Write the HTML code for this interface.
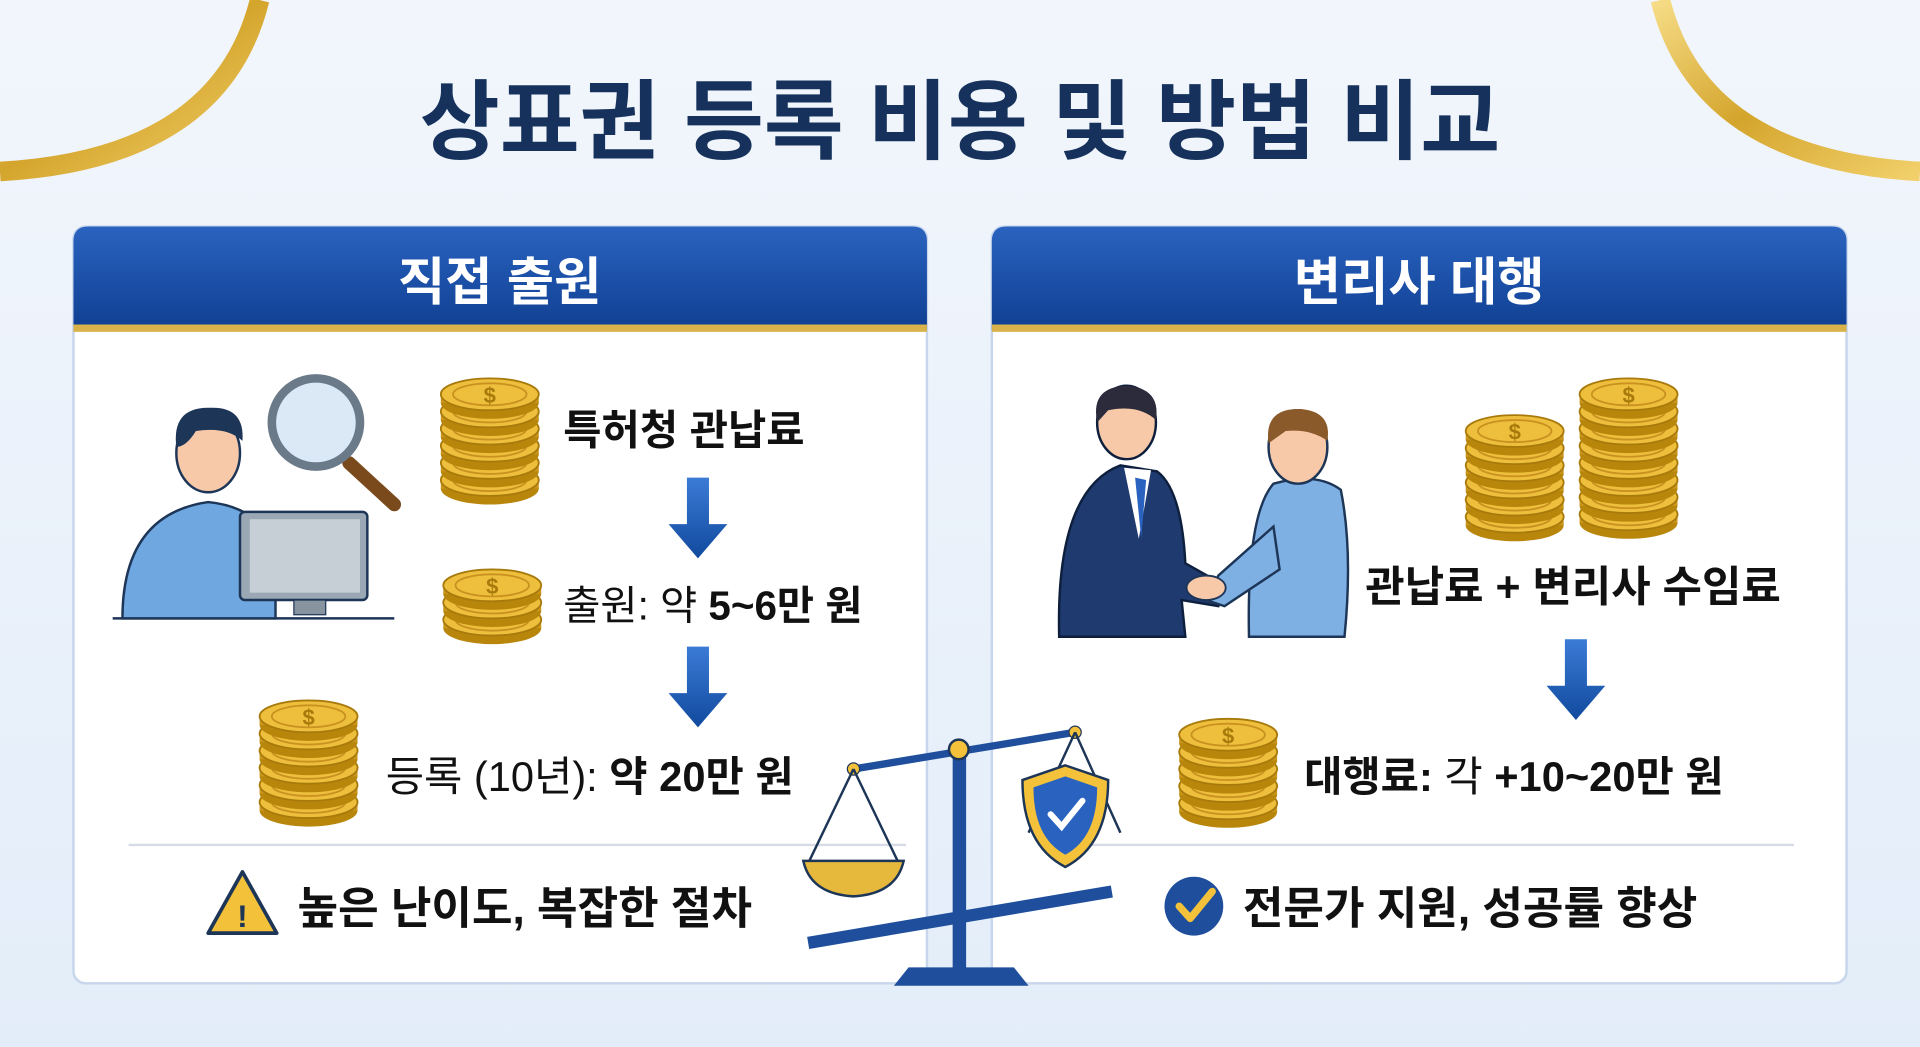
<!DOCTYPE html>
<html><head><meta charset="utf-8"><style>
html,body{margin:0;padding:0;width:1920px;height:1047px;overflow:hidden;background:#eaf1fa}
svg{display:block}
text{font-family:"Liberation Sans","Noto Sans CJK KR",sans-serif}
</style></head><body>
<svg width="1920" height="1047" viewBox="0 0 1568 855" preserveAspectRatio="none" xmlns="http://www.w3.org/2000/svg">
<defs>
<linearGradient id="bg" x1="0" y1="0" x2="0" y2="1"><stop offset="0" stop-color="#f2f6fc"/><stop offset="1" stop-color="#e3edf9"/></linearGradient>
<linearGradient id="hd" x1="0" y1="0" x2="0" y2="1"><stop offset="0" stop-color="#2a63bf"/><stop offset="1" stop-color="#0f3f92"/></linearGradient>
<linearGradient id="ar" x1="0" y1="0" x2="0" y2="1"><stop offset="0" stop-color="#3b7bd6"/><stop offset="1" stop-color="#114a9e"/></linearGradient>
<linearGradient id="gold" x1="0" y1="0" x2="1" y2="1"><stop offset="0" stop-color="#f6dc86"/><stop offset="0.5" stop-color="#d4a52c"/><stop offset="1" stop-color="#f1cf6a"/></linearGradient>
<g id="coin"><ellipse cx="0" cy="7" rx="40" ry="13" fill="#b8860b"/><rect x="-40" y="0" width="80" height="7" fill="#c9961c"/><ellipse cx="0" cy="0" rx="40" ry="13" fill="#eebf3c" stroke="#a87a0c" stroke-width="1.5"/><ellipse cx="0" cy="0" rx="30" ry="9" fill="none" stroke="#c99220" stroke-width="1.5"/></g>
<g id="arrow"><path d="M-9 0 H9 V38 H24 L0 66 L-24 38 H-9 Z" fill="url(#ar)"/></g>
</defs>
<rect width="1568" height="855" fill="url(#bg)"/>
<path d="M0 140 Q180 130 212 0" fill="none" stroke="url(#gold)" stroke-width="16"/>
<path d="M1568 140 Q1388 130 1356 0" fill="none" stroke="url(#gold)" stroke-width="16"/>
<text x="784" y="124" text-anchor="middle" font-size="71" font-weight="bold" fill="#16325c">상표권 등록 비용 및 방법 비교</text>

<g>
<rect x="60" y="185" width="697" height="618" rx="10" fill="#fff" stroke="#c7d6ec" stroke-width="2"/>
<path d="M60 270 V197 Q60 185 72 185 H745 Q757 185 757 197 V270 Z" fill="url(#hd)"/>
<rect x="60" y="265" width="697" height="6" fill="#d9b24a"/>
<text x="408" y="245" text-anchor="middle" font-size="42" font-weight="bold" fill="#fff">직접 출원</text>
</g>
<g>
<rect x="810" y="185" width="698" height="618" rx="10" fill="#fff" stroke="#c7d6ec" stroke-width="2"/>
<path d="M810 270 V197 Q810 185 822 185 H1496 Q1508 185 1508 197 V270 Z" fill="url(#hd)"/>
<rect x="810" y="265" width="698" height="6" fill="#d9b24a"/>
<text x="1159" y="245" text-anchor="middle" font-size="42" font-weight="bold" fill="#fff">변리사 대행</text>
</g>

<line x1="92" y1="505" x2="322" y2="505" stroke="#1d3557" stroke-width="2"/>
<path d="M100 505 Q100 420 170 410 Q220 415 225 460 L225 505 Z" fill="#6fa7e0" stroke="#1d3557" stroke-width="2"/>
<ellipse cx="170" cy="370" rx="26" ry="32" fill="#f7c9a8" stroke="#1d3557" stroke-width="2"/>
<path d="M144 365 Q140 332 172 333 Q200 332 198 360 Q185 348 160 352 Q152 365 144 365 Z" fill="#1d3557"/>
<rect x="196" y="418" width="104" height="72" rx="4" fill="#9aa7b4" stroke="#1d3557" stroke-width="2"/>
<rect x="204" y="424" width="90" height="60" fill="#c6ced6"/>
<rect x="240" y="490" width="26" height="12" fill="#8893a0" stroke="#1d3557"/>
<line x1="285" y1="378" x2="322" y2="412" stroke="#7a4a1c" stroke-width="11" stroke-linecap="round"/>
<circle cx="258" cy="345" r="36" fill="#dbe9f6" stroke="#6b7a88" stroke-width="7"/>

<g transform="translate(400,0)"><use href="#coin" y="392"/><use href="#coin" y="378"/><use href="#coin" y="364"/><use href="#coin" y="350"/><use href="#coin" y="336"/><use href="#coin" y="322"/><text x="0" y="329" text-anchor="middle" font-size="18" font-weight="bold" fill="#a87a0c">$</text></g>
<g transform="translate(402,0)"><use href="#coin" y="506"/><use href="#coin" y="492"/><use href="#coin" y="478"/><text x="0" y="485" text-anchor="middle" font-size="18" font-weight="bold" fill="#a87a0c">$</text></g>
<g transform="translate(252,0)"><use href="#coin" y="655"/><use href="#coin" y="641"/><use href="#coin" y="627"/><use href="#coin" y="613"/><use href="#coin" y="599"/><use href="#coin" y="585"/><text x="0" y="592" text-anchor="middle" font-size="18" font-weight="bold" fill="#a87a0c">$</text></g>

<text x="460" y="363" font-size="34" font-weight="bold" fill="#111">특허청 관납료</text>
<use href="#arrow" x="570" y="390"/>
<text x="460" y="506" font-size="33" fill="#111">출원: 약 <tspan font-weight="bold">5~6만 원</tspan></text>
<use href="#arrow" x="570" y="528"/>
<text x="315" y="646" font-size="34" fill="#111">등록 (10년): <tspan font-weight="bold">약 20만 원</tspan></text>
<line x1="105" y1="690" x2="740" y2="690" stroke="#d5dce6" stroke-width="2"/>
<path d="M198 712 L226 762 H170 Z" fill="#f3c23a" stroke="#1d3557" stroke-width="3" stroke-linejoin="round"/>
<text x="198" y="757" text-anchor="middle" font-size="26" font-weight="bold" fill="#1d3557">!</text>
<text x="243" y="754" font-size="36" font-weight="bold" fill="#111">높은 난이도, 복잡한 절차</text>

<path d="M865 520 Q862 400 915 380 L945 385 Q965 400 968 460 L1000 478 L995 495 L965 490 L968 520 Z" fill="#1f3a6e" stroke="#0e1f3d" stroke-width="2"/>
<path d="M918 382 L930 440 L940 384 Z" fill="#fff"/>
<path d="M927 390 L932 440 L936 392 Z" fill="#2a63bf"/>
<ellipse cx="920" cy="345" rx="24" ry="30" fill="#f7c9a8" stroke="#0e1f3d" stroke-width="2"/>
<path d="M896 345 Q890 315 922 315 Q948 318 944 343 Q930 330 905 335 Z" fill="#2b2b3b"/>
<path d="M1020 520 Q1018 420 1040 395 Q1075 385 1095 400 Q1105 450 1098 520 Z" fill="#7fb0e4" stroke="#1d3557" stroke-width="2"/>
<path d="M1040 430 L995 470 L985 490 L1000 495 L1045 465 Z" fill="#7fb0e4" stroke="#1d3557" stroke-width="2"/>
<ellipse cx="1060" cy="365" rx="24" ry="30" fill="#f7c9a8" stroke="#1d3557" stroke-width="2"/>
<path d="M1036 362 Q1032 333 1062 334 Q1088 336 1084 360 Q1070 350 1050 352 Z" fill="#8a5a2b"/>
<ellipse cx="985" cy="480" rx="16" ry="10" fill="#f7c9a8" stroke="#1d3557" stroke-width="1.5"/>

<g transform="translate(1237,0)"><use href="#coin" y="422"/><use href="#coin" y="408"/><use href="#coin" y="394"/><use href="#coin" y="380"/><use href="#coin" y="366"/><use href="#coin" y="352"/><text x="0" y="359" text-anchor="middle" font-size="18" font-weight="bold" fill="#a87a0c">$</text></g>
<g transform="translate(1330,0)"><use href="#coin" y="420"/><use href="#coin" y="406"/><use href="#coin" y="392"/><use href="#coin" y="378"/><use href="#coin" y="364"/><use href="#coin" y="350"/><use href="#coin" y="336"/><use href="#coin" y="322"/><text x="0" y="329" text-anchor="middle" font-size="18" font-weight="bold" fill="#a87a0c">$</text></g>
<g transform="translate(1003,0)"><use href="#coin" y="656"/><use href="#coin" y="642"/><use href="#coin" y="628"/><use href="#coin" y="614"/><use href="#coin" y="600"/><text x="0" y="607" text-anchor="middle" font-size="18" font-weight="bold" fill="#a87a0c">$</text></g>

<text x="1115" y="491" font-size="35" font-weight="bold" fill="#111">관납료 + 변리사 수임료</text>
<use href="#arrow" x="1287" y="522"/>
<text x="1065" y="646" font-size="34" fill="#111"><tspan font-weight="bold">대행료:</tspan> 각 <tspan font-weight="bold">+10~20만 원</tspan></text>
<line x1="850" y1="690" x2="1465" y2="690" stroke="#d5dce6" stroke-width="2"/>
<circle cx="975" cy="740" r="24" fill="#1f4f9c"/>
<path d="M963 740 L972 750 L990 728" fill="none" stroke="#f3c23a" stroke-width="6" stroke-linecap="round" stroke-linejoin="round"/>
<text x="1015" y="754" font-size="36" font-weight="bold" fill="#111">전문가 지원, 성공률 향상</text>

<path d="M730 805 L742 790 H828 L840 805 Z" fill="#1f4f9c"/>
<rect x="778" y="610" width="11" height="185" fill="#1f4f9c"/>
<line x1="660" y1="770" x2="908" y2="728" stroke="#1f4f9c" stroke-width="10"/>
<line x1="697" y1="628" x2="878" y2="598" stroke="#1f4f9c" stroke-width="6"/>
<circle cx="783" cy="612" r="8" fill="#f3c23a" stroke="#1d3557" stroke-width="2"/>
<circle cx="697" cy="628" r="5" fill="#f3c23a" stroke="#1d3557"/>
<circle cx="878" cy="598" r="5" fill="#f3c23a" stroke="#1d3557"/>
<path d="M697 628 L660 705 M697 628 L734 705" stroke="#1d3557" stroke-width="2"/>
<path d="M656 703 H738 Q732 730 697 732 Q662 730 656 703 Z" fill="#e6b83c" stroke="#1d3557" stroke-width="2"/>
<path d="M878 598 L840 680 M878 598 L915 680" stroke="#1d3557" stroke-width="2"/>
<path d="M870 625 L905 637 Q905 690 870 708 Q835 690 835 637 Z" fill="#f3c23a" stroke="#1d3557" stroke-width="2"/>
<path d="M870 634 L896 643 Q896 684 870 698 Q844 684 844 643 Z" fill="#2a63bf"/>
<path d="M858 665 L867 675 L884 654" fill="none" stroke="#fff" stroke-width="5" stroke-linecap="round"/>
</svg>
</body></html>
